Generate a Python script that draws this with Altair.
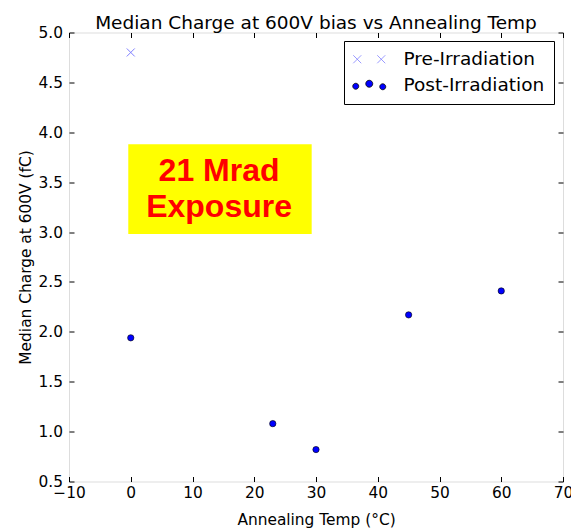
import altair as alt
import pandas as pd

# ---- data ----
series_names = ["Pre-Irradiation", "Post-Irradiation"]
pre_temp = [0]
pre_charge = [4.80]
post_temp = [0, 23, 30, 45, 60]
post_charge = [1.94, 1.08, 0.82, 2.17, 2.41]
x_ticks = [-10, 0, 10, 20, 30, 40, 50, 60, 70]
y_ticks = [0.5, 1.0, 1.5, 2.0, 2.5, 3.0, 3.5, 4.0, 4.5, 5.0]
note_lines = ["21 Mrad", "Exposure"]
note_line_y = [3.515, 3.148]
note_x = [14.3, 14.3]
note_box_x = [-0.4]
note_box_x2 = [29.3]
note_box_y = [2.98]
note_box_y2 = [3.88]

df = pd.DataFrame({
    "temp": pre_temp + post_temp,
    "charge": pre_charge + post_charge,
    "series": [series_names[0]] * len(pre_temp) + [series_names[1]] * len(post_temp),
})
legend_df = pd.DataFrame({"series": pd.Series([], dtype=str)})
box_df = pd.DataFrame({"x": note_box_x, "x2": note_box_x2, "y": note_box_y, "y2": note_box_y2})
note_df = pd.DataFrame({"x": note_x, "y": note_line_y, "text": note_lines})

W, H = 494, 449
FONT = "DejaVu Sans"
TICK = 5

X_PATH = "M-1,-1L1,1M-1,1L1,-1"


def circ(cx, cy, r):
    return f"M{cx - r},{cy}a{r},{r} 0 1,0 {2 * r},0a{r},{r} 0 1,0 {-2 * r},0Z"


PRE_LEG = ("M-3.2,-0.8L-1.6,0.8M-3.2,0.8L-1.6,-0.8"
           "M1.6,-0.8L3.2,0.8M1.6,0.8L3.2,-0.8")
POST_LEG = circ(-2.7, 0.2, 0.6) + circ(0, -0.3, 0.7) + circ(2.7, 0.3, 0.6)

legend = alt.Legend(
    title=None, orient="none", legendX=275, legendY=8.5,
    padding=9, rowPadding=7, symbolOffset=7, labelOffset=25,
    labelFont=FONT, labelFontSize=18.5, labelColor="#000",
    strokeColor="#000", fillColor="#fff", cornerRadius=0,
    symbolSize=100, symbolStrokeWidth=0.8, symbolOpacity=1,
)

xscale = alt.Scale(domain=[-10, 70], nice=False, zero=False)
yscale = alt.Scale(domain=[0.5, 5.0], nice=False, zero=False)

common_axis = dict(grid=False, domain=False, tickSize=TICK, offset=-TICK,
                   tickColor="#000", tickWidth=1, labelFlush=False, labelOverlap=False,
                   labelFont=FONT, labelFontSize=15.4, labelColor="#000",
                   titleFont=FONT, titleFontSize=15.4, titleColor="#000", titleFontWeight="normal")

points = alt.Chart(df).mark_point(opacity=1).encode(
    x=alt.X("temp:Q", scale=xscale, axis=alt.Axis(
        values=x_ticks, format="d", title="Annealing Temp (°C)", labelPadding=4,
        titleY=47.5, titleBaseline="alphabetic", **common_axis)),
    y=alt.Y("charge:Q", scale=yscale, axis=alt.Axis(
        values=y_ticks, format=".1f", title="Median Charge at 600V (fC)", labelPadding=6.5,
        titleX=-44, titleBaseline="alphabetic", **common_axis)),
    shape=alt.Shape("series:N", scale=alt.Scale(domain=series_names, range=[X_PATH, "circle"]), legend=None),
    fill=alt.Fill("series:N", scale=alt.Scale(domain=series_names, range=["transparent", "#0000ff"]), legend=None),
    stroke=alt.Stroke("series:N", scale=alt.Scale(domain=series_names, range=["#8080ff", "#000000"]), legend=None),
    size=alt.Size("series:N", scale=alt.Scale(domain=series_names, range=[64, 40]), legend=None),
    strokeWidth=alt.StrokeWidth("series:N", scale=alt.Scale(domain=series_names, range=[1, 0.6]), legend=None),
)

legend_layer = alt.Chart(legend_df).mark_point(opacity=1).encode(
    shape=alt.Shape("series:N", scale=alt.Scale(domain=series_names, range=[PRE_LEG, POST_LEG]), legend=legend),
    fill=alt.Fill("series:N", scale=alt.Scale(domain=series_names, range=["transparent", "#0000ff"]), legend=legend),
    stroke=alt.Stroke("series:N", scale=alt.Scale(domain=series_names, range=["#8080ff", "#000000"]), legend=legend),
)

box = alt.Chart(box_df).mark_rect(color="#ffff00").encode(
    x=alt.X("x:Q", scale=xscale, axis=alt.Axis(
        orient="top", labels=False, title=None, values=x_ticks, **common_axis)),
    x2="x2:Q",
    y=alt.Y("y:Q", scale=yscale, axis=alt.Axis(
        orient="right", labels=False, title=None, values=y_ticks, **common_axis)),
    y2="y2:Q",
)

notes = alt.Chart(note_df).mark_text(
    font="Liberation Sans", fontSize=32, fontWeight="bold", color="#ff0000",
    baseline="alphabetic", align="center",
).encode(
    x=alt.X("x:Q", scale=xscale, axis=None),
    y=alt.Y("y:Q", scale=yscale, axis=None),
    text="text:N",
)

chart = alt.layer(box, notes, points, legend_layer).resolve_axis(
    x="independent", y="independent"
).resolve_scale(
    shape="independent", fill="independent", stroke="independent"
).properties(
    width=W, height=H,
    title=alt.TitleParams("Median Charge at 600V bias vs Annealing Temp", font=FONT, fontSize=18.5,
                          fontWeight="normal", color="#000", anchor="middle",
                          baseline="alphabetic", offset=5.5, dy=27),
    autosize=alt.AutoSizeParams(type="none"),
    padding={"left": 69, "top": 32.5, "right": 8, "bottom": 46.5},
).configure_view(stroke="#000", strokeWidth=1).configure(background="#ffffff")

chart.save("out.html", embed_options={"renderer": "svg", "actions": False})
